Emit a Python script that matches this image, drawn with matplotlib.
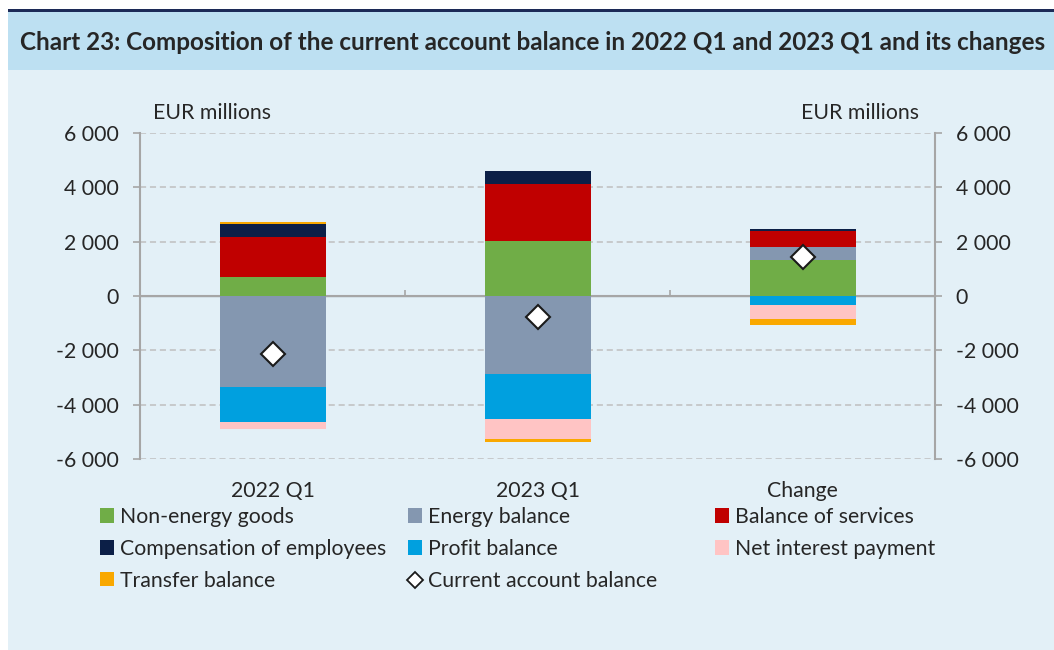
import numpy as np
import matplotlib
matplotlib.use('Agg')
import matplotlib.pyplot as plt
from matplotlib.patches import Patch, Rectangle
from matplotlib.lines import Line2D
from matplotlib.ticker import FuncFormatter

# data (EUR millions)
categories = ['2022 Q1', '2023 Q1', 'Change']
non_energy = [700, 2040, 1340]
energy = [-3360, -2880, 470]
services = [1480, 2070, 590]
compensation = [460, 490, 50]
profit = [-1280, -1640, -340]
interest = [-270, -750, -500]
transfer = [100, -110, -210]
current_account = [-2150, -775, 1425]

series = [
    ('Non-energy goods', non_energy, '#70ad47'),
    ('Energy balance', energy, '#8497b0'),
    ('Balance of services', services, '#c00000'),
    ('Compensation of employees', compensation, '#0c1f47'),
    ('Profit balance', profit, '#00a0df'),
    ('Net interest payment', interest, '#ffc4c4'),
    ('Transfer balance', transfer, '#f9a800'),
]

plt.rcParams['font.family'] = ['Lato', 'DejaVu Sans']
text_col = '#262626'
grid_col = '#bfbfbf'
axis_col = '#a6a6a6'
fs = 15.3

W, H = 1054, 650
fig = plt.figure(figsize=(W / 100, H / 100), dpi=100, facecolor='white')

# panel background, title band and top rule
fig.patches.append(Rectangle((8 / W, 0), 1, 1 - 70 / H, transform=fig.transFigure,
                             facecolor='#e3f0f7', edgecolor='none', zorder=-10))
fig.patches.append(Rectangle((8 / W, 1 - 70 / H), 1, (70 - 11) / H, transform=fig.transFigure,
                             facecolor='#bde0f2', edgecolor='none', zorder=-10))
fig.patches.append(Rectangle((8 / W, 1 - 11.5 / H), 1, 3 / H, transform=fig.transFigure,
                             facecolor='#1c2a57', edgecolor='none', zorder=-9))
fig.text(20 / W, 1 - 43 / H, 'Chart 23: Composition of the current account balance in 2022 Q1 and 2023 Q1 and its changes',
         fontsize=17.5, fontweight='bold', color=text_col, va='center', ha='left')

ax = fig.add_axes([140 / W, 1 - 459 / H, 795 / W, 326 / H])
ax.set_facecolor('none')

x = np.arange(len(categories))
pos_base = np.zeros(len(categories))
neg_base = np.zeros(len(categories))
for name, vals, col in series:
    vals = np.array(vals, dtype=float)
    base = np.where(vals >= 0, pos_base, neg_base)
    ax.bar(x, vals, width=0.4, bottom=base, color=col, edgecolor='none', zorder=3)
    pos_base = pos_base + np.where(vals >= 0, vals, 0)
    neg_base = neg_base + np.where(vals < 0, vals, 0)

ax.plot(x, current_account, linestyle='none', marker='D', markersize=12,
        markerfacecolor='white', markeredgecolor='#1a1a1a', markeredgewidth=1.5, zorder=5)

ax.set_xlim(-0.5, len(categories) - 0.5)
ax.set_ylim(-6000, 6000)
ax.set_yticks(np.arange(-6000, 6001, 2000))
fmt = FuncFormatter(lambda v, p: f'{int(v):,}'.replace(',', ' '))
ax.yaxis.set_major_formatter(fmt)
ax.tick_params(axis='y', which='both', direction='out', length=5, width=1.2, color=axis_col,
               labelsize=fs, labelcolor=text_col, pad=10, left=True, right=True,
               labelleft=True, labelright=True)

for v in np.arange(-6000, 6001, 2000):
    if v != 0:
        ax.axhline(v, color=grid_col, linestyle=(0, (4, 2.5)), linewidth=1.1, zorder=1)
ax.axhline(0, color=axis_col, linewidth=1.5, zorder=2)

ax.set_xticks(x)
ax.set_xticklabels(categories)
ax.tick_params(axis='x', length=0, labelsize=fs, labelcolor=text_col, pad=16)

for s in ['top', 'bottom']:
    ax.spines[s].set_visible(False)
for s in ['left', 'right']:
    ax.spines[s].set_color(axis_col)
    ax.spines[s].set_linewidth(1.5)

# small category boundary ticks on the zero line
sec = ax.secondary_xaxis(0.5)
sec.set_xticks(x[:-1] + 0.5)
sec.tick_params(direction='out', length=4, width=1.2, color=axis_col, labelbottom=False)
sec.set_xticklabels([])
sec.spines['bottom'].set_visible(False)

ax.text(0.016, 1.06, 'EUR millions', transform=ax.transAxes, ha='left', va='center',
        fontsize=fs, color=text_col)
ax.text(0.98, 1.06, 'EUR millions', transform=ax.transAxes, ha='right', va='center',
        fontsize=fs, color=text_col)

# legend in three columns
handles = {name: Patch(facecolor=col, edgecolor='none') for name, _, col in series}
handles['Current account balance'] = Line2D([], [], linestyle='none', marker='D', markersize=8,
                                            markerfacecolor='white', markeredgecolor='#1a1a1a',
                                            markeredgewidth=1.3)
columns = [
    (['Non-energy goods', 'Compensation of employees', 'Transfer balance'], 100),
    (['Energy balance', 'Profit balance', 'Current account balance'], 408),
    (['Balance of services', 'Net interest payment'], 715),
]
for names, xpx in columns:
    leg = fig.legend([handles[n] for n in names], names, loc='upper left',
                     bbox_to_anchor=(xpx / W, 1 - 507 / H), frameon=False,
                     fontsize=fs, handlelength=0.65, handleheight=0.65, handletextpad=0.3,
                     labelspacing=0.56, borderpad=0, borderaxespad=0, labelcolor=text_col)

fig.savefig('out.png', dpi=100, facecolor=fig.get_facecolor())
